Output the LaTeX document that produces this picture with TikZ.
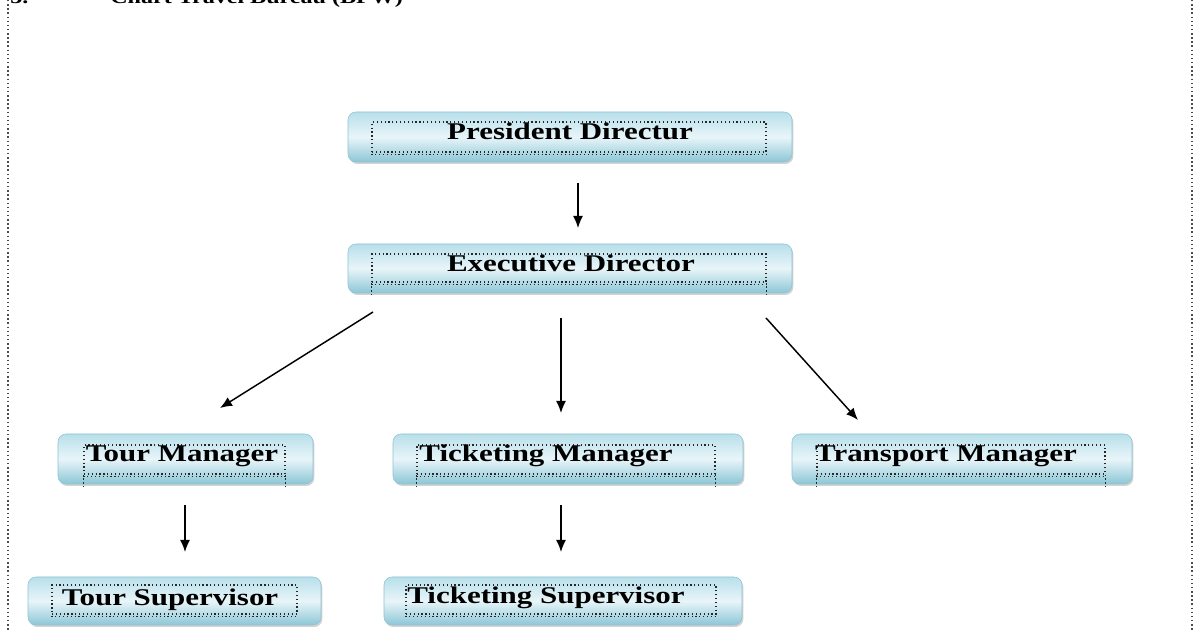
\documentclass[tikz,border=0pt]{standalone}
\usepackage{fontspec}
\setmainfont{Liberation Serif}
\usetikzlibrary{arrows.meta,shadows}
\definecolor{boxtop}{RGB}{184,223,234}
\definecolor{boxmid}{RGB}{232,245,249}
\definecolor{boxbot}{RGB}{140,198,214}
\definecolor{boxedge}{RGB}{140,195,211}
\newcommand{\wtxt}[1]{\scalebox{1.29}[1]{#1}}
\begin{document}
\begin{tikzpicture}[x=0.75pt,y=-0.75pt,
  orgbox/.style={rectangle, rounded corners=6pt, draw=boxedge, line width=0.4pt,
    top color=boxtop, bottom color=boxbot, middle color=boxmid,
    drop shadow={shadow xshift=1pt, shadow yshift=-1.5pt, opacity=0.35}},
  inner/.style={rectangle, draw=black!85, dotted, line width=0.9pt},
  lbl/.style={anchor=base, inner sep=0pt, font=\fontsize{18}{20}\selectfont\bfseries},
  ttl/.style={anchor=base west, inner sep=0pt, font=\fontsize{14}{16}\selectfont\bfseries},
  ext/.style={draw=black!85, dotted, line width=0.9pt},
  frame/.style={draw=black!70, dotted, line width=1.1pt},
  arr/.style={line width=1.1pt, -{Latex[length=9pt,width=7.5pt]}}]
\useasboundingbox (0,0) rectangle (1200,630);
\clip (0,0) rectangle (1200,630);
\fill[white] (0,0) rectangle (1200,630);

% page frame
\coordinate (fl1) at (8,0); \coordinate (fl2) at (8,630);
\coordinate (fr1) at (1192,0); \coordinate (fr2) at (1192,630);
\draw[frame] (fl1) -- (fl2);
\draw[frame] (fr1) -- (fr2);

% clipped title
\node[ttl] (t3) at (10,4) {\wtxt{3.}};
\node[ttl] (tt) at (110,4) {\wtxt{Chart Travel Bureau (BPW)}};

% boxes
\node[orgbox, minimum width=333pt, minimum height=37.5pt] (pd) at (570,137) {};
\node[inner, minimum width=295.5pt, minimum height=22.5pt] (pdi) at (569,137) {};
\draw[ext] ([yshift=-1.3pt]pdi.south west) -- ([yshift=-1.3pt]pdi.south east);
\node[lbl] (pdt) at (570,140) {\wtxt{President Directur}};

\node[orgbox, minimum width=333pt, minimum height=36.75pt] (ed) at (570,268.5) {};
\node[inner, minimum width=295.5pt, minimum height=21pt] (edi) at (569,268) {};
\draw[ext] ([yshift=-1.3pt]edi.south west) -- ([yshift=-1.3pt]edi.south east);
\draw[ext] (edi.south west) -- ++(0,15);
\draw[ext] (edi.south east) -- ++(0,15);
\node[lbl] (edt) at (571,272) {\wtxt{Executive Director}};

\node[orgbox, minimum width=191.25pt, minimum height=37.5pt] (tm) at (185.5,459) {};
\node[inner, minimum width=150.75pt, minimum height=21.75pt] (tmi) at (184.5,459.5) {};
\draw[ext] ([yshift=-1.3pt]tmi.south west) -- ([yshift=-1.3pt]tmi.south east);
\draw[ext] (tmi.south west) -- ++(0,13);
\draw[ext] (tmi.south east) -- ++(0,13);
\node[lbl] (tmt) at (182,462) {\wtxt{Tour Manager}};

\node[orgbox, minimum width=262.5pt, minimum height=37.5pt] (km) at (568,459) {};
\node[inner, minimum width=223.5pt, minimum height=21.75pt] (kmi) at (566,459.5) {};
\draw[ext] ([yshift=-1.3pt]kmi.south west) -- ([yshift=-1.3pt]kmi.south east);
\draw[ext] (kmi.south west) -- ++(0,13);
\draw[ext] (kmi.south east) -- ++(0,13);
\node[lbl] (kmt) at (546,462) {\wtxt{Ticketing Manager}};

\node[orgbox, minimum width=255pt, minimum height=37.5pt] (rm) at (962,459) {};
\node[inner, minimum width=216pt, minimum height=21.75pt] (rmi) at (961,459.5) {};
\draw[ext] ([yshift=-1.3pt]rmi.south west) -- ([yshift=-1.3pt]rmi.south east);
\draw[ext] (rmi.south west) -- ++(0,13);
\draw[ext] (rmi.south east) -- ++(0,13);
\node[lbl] (rmt) at (946,462) {\wtxt{Transport Manager}};

\node[orgbox, minimum width=219.75pt, minimum height=36pt] (ts) at (174.5,601) {};
\node[inner, minimum width=183.75pt, minimum height=21.75pt] (tsi) at (174.5,599.5) {};
\draw[ext] ([yshift=-1.3pt]tsi.south west) -- ([yshift=-1.3pt]tsi.south east);
\node[lbl] (tst) at (170,605) {\wtxt{Tour Supervisor}};

\node[orgbox, minimum width=268.5pt, minimum height=36pt] (ks) at (563,601) {};
\node[inner, minimum width=232.5pt, minimum height=21.75pt] (ksi) at (561,599.5) {};
\draw[ext] ([yshift=-1.3pt]ksi.south west) -- ([yshift=-1.3pt]ksi.south east);
\node[lbl] (kst) at (546,604) {\wtxt{Ticketing Supervisor}};

% connector end points
\coordinate (a1s) at (578,183); \coordinate (a1e) at (578,228);
\coordinate (a2s) at (373,312); \coordinate (a2e) at (220,408);
\coordinate (a3s) at (561,318); \coordinate (a3e) at (561,413);
\coordinate (a4s) at (766,318); \coordinate (a4e) at (858,420);
\coordinate (a5s) at (185,505); \coordinate (a5e) at (185,552);
\coordinate (a6s) at (561,505); \coordinate (a6e) at (561,552);

\draw[arr] (a1s) -- (a1e);
\draw[arr] (a2s) -- (a2e);
\draw[arr] (a3s) -- (a3e);
\draw[arr] (a4s) -- (a4e);
\draw[arr] (a5s) -- (a5e);
\draw[arr] (a6s) -- (a6e);
\end{tikzpicture}
\end{document}
